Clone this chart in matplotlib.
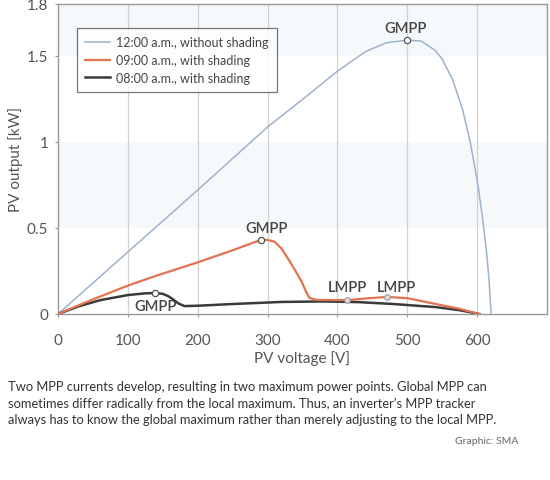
import matplotlib
matplotlib.use("Agg")
import matplotlib.pyplot as plt

plt.rcParams['font.family'] = ['Lato', 'DejaVu Sans']

# Data (PV voltage [V], PV output [kW])
blue_x = [0, 100, 200, 300, 356, 400, 421, 441, 470, 499, 520, 540, 550, 565, 579, 590, 600, 607, 613, 617, 620]
blue_y = [0, 0.36, 0.72, 1.086, 1.265, 1.41, 1.47, 1.525, 1.575, 1.59, 1.585, 1.53, 1.48, 1.36, 1.19, 1.0, 0.78, 0.58, 0.38, 0.2, 0.0]

red_x = [0, 50, 100, 139, 200, 250, 280, 291, 300, 310, 320, 331, 340, 349, 355, 360, 370, 414, 440, 471, 500, 541, 575, 603]
red_y = [0, 0.085, 0.165, 0.22, 0.30, 0.37, 0.415, 0.43, 0.43, 0.42, 0.38, 0.31, 0.25, 0.186, 0.13, 0.093, 0.082, 0.08, 0.09, 0.099, 0.092, 0.058, 0.03, 0.0]

black_x = [0, 30, 60, 100, 125, 139, 150, 158, 164, 172, 181, 200, 250, 320, 380, 430, 480, 541, 575, 603]
black_y = [0, 0.045, 0.08, 0.11, 0.12, 0.122, 0.117, 0.103, 0.087, 0.062, 0.046, 0.048, 0.058, 0.07, 0.073, 0.069, 0.058, 0.04, 0.022, 0.0]

series_labels = ["12:00 a.m., without shading", "09:00 a.m., with shading", "08:00 a.m., with shading"]

gmpp_x = [499, 291, 139]
gmpp_y = [1.59, 0.43, 0.122]
lmpp_x = [414, 471]
lmpp_y = [0.08, 0.099]

x_ticks = [0, 100, 200, 300, 400, 500, 600]
y_ticks = [0, 0.5, 1, 1.5, 1.8]
y_tick_labels = ["0", "0.5", "1", "1.5", "1.8"]

caption = ("Two MPP currents develop, resulting in two maximum power points. Global MPP can\n"
           "sometimes differ radically from the local maximum. Thus, an inverter\u2019s MPP tracker\n"
           "always has to know the global maximum rather than merely adjusting to the local MPP.")

fig = plt.figure(figsize=(5.5, 4.81), dpi=100)
ax = fig.add_axes([58/550, 166/481, 489/550, 310/481])

txt = '#444444'
# faint background bands
ax.axhspan(1.5, 1.8, color='#f6f9fb', zorder=0, lw=0)
ax.axhspan(0.5, 1.0, color='#f6f9fb', zorder=0, lw=0)
for gx in x_ticks[1:]:
    ax.axvline(gx, color='#d2d2cc', lw=0.9, zorder=1)

c_blue = '#9fb2cc'
c_red = '#e2734f'
c_black = '#3a3a3a'
ax.plot(blue_x, blue_y, color=c_blue, lw=1.1, label=series_labels[0], zorder=3)
ax.plot(red_x, red_y, color=c_red, lw=1.6, label=series_labels[1], zorder=4)
ax.plot(black_x, black_y, color=c_black, lw=1.8, label=series_labels[2], zorder=3)

ax.plot(gmpp_x, gmpp_y, 'o', ms=4.5, mfc='white', mec='#555555', mew=0.9, zorder=5)
ax.plot(lmpp_x, lmpp_y, 'o', ms=4, mfc='#dddddd', mec='#999999', mew=0.8, zorder=5)

lfs = 10.5
kw = dict(ha='center', va='center', fontsize=lfs, color=txt, fontweight='semibold')
ax.text(gmpp_x[0] - 2, 1.66, "GMPP", **kw)
ax.text(gmpp_x[1] + 8, 0.50, "GMPP", **kw)
ax.text(gmpp_x[2], 0.045, "GMPP", **kw)
ax.text(lmpp_x[0], 0.157, "LMPP", **kw)
ax.text(lmpp_x[1] + 14, 0.157, "LMPP", **kw)

ax.set_xlim(0, 700)
ax.set_ylim(0, 1.8)
ax.set_xticks(x_ticks)
ax.set_yticks(y_ticks)
ax.set_yticklabels(y_tick_labels)
ax.tick_params(axis='both', length=2, color='#999999', labelsize=11, labelcolor='#555555')
ax.tick_params(axis='x', pad=12)
ax.tick_params(axis='y', pad=5)
for s in ax.spines.values():
    s.set_color('#999999')
    s.set_linewidth(1.0)

ax.set_xlabel("PV voltage [V]", fontsize=11, color='#555555', labelpad=2)
ax.set_ylabel("PV output [kW]", fontsize=11, color='#555555', labelpad=3)

leg = ax.legend(loc='upper left', bbox_to_anchor=(0.039, 0.922), borderaxespad=0,
                fontsize=9, frameon=True, fancybox=False, handlelength=2.0,
                handletextpad=0.5, borderpad=0.65, labelspacing=0.45)
leg.get_frame().set_edgecolor('#555555')
leg.get_frame().set_linewidth(0.9)
for t in leg.get_texts():
    t.set_color('#444444')

fig.text(8/550, 1 - 381/481, caption, ha='left', va='top', fontsize=9.3, color='#333333', linespacing=1.43)
fig.text(518/550, 1 - 442/481, "Graphic: SMA", ha='right', va='center', fontsize=7.5, color='#666666')

fig.savefig("out.png", dpi=100)
